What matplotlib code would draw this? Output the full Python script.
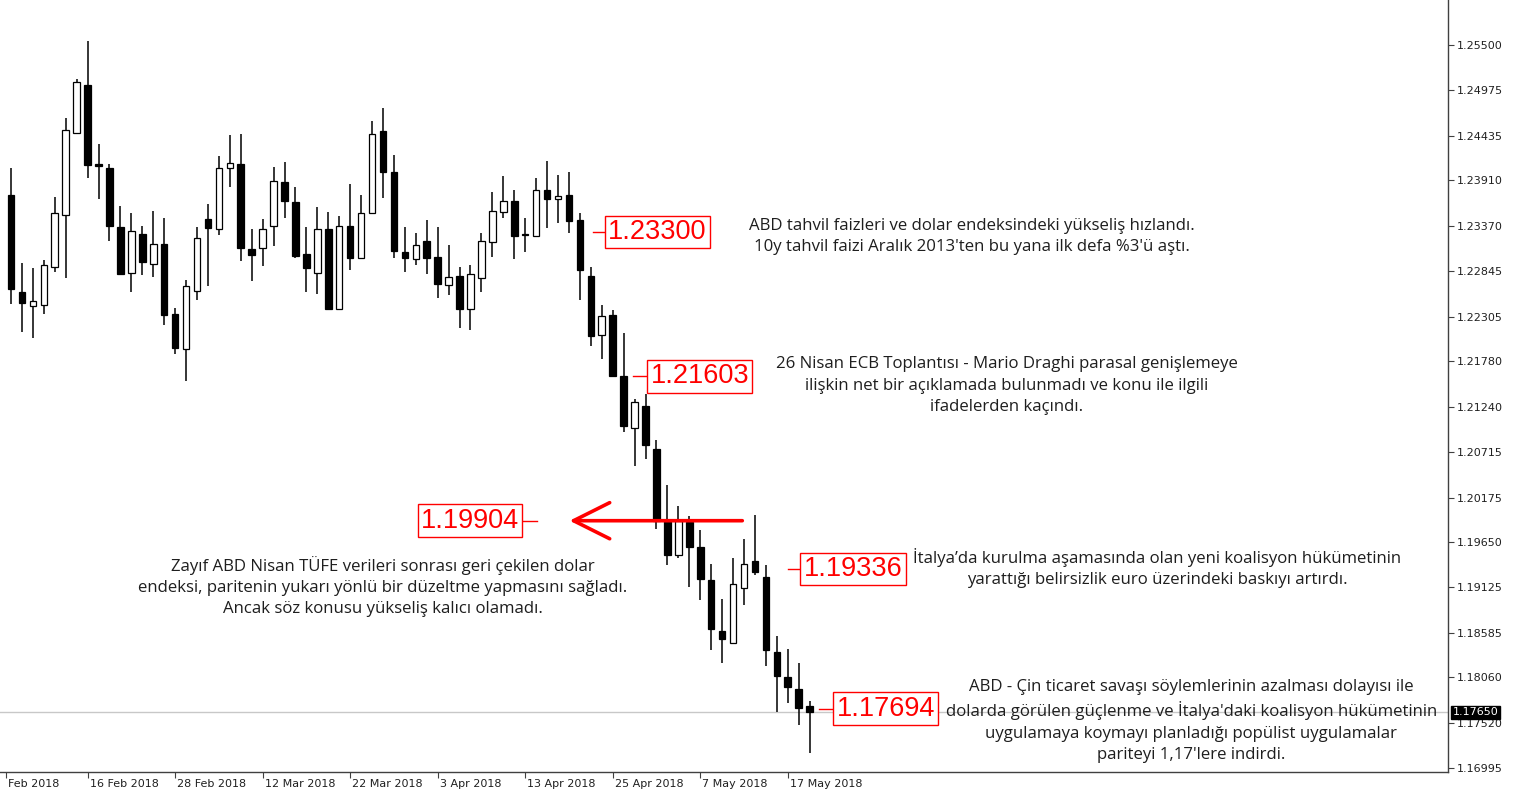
"""
EUR/USD daily candles, Feb - May 2018, with event notes (MT4 style chart).
"""

import matplotlib
matplotlib.use('Agg')
import matplotlib.pyplot as plt
from matplotlib.transforms import blended_transform_factory


# =============================================================================
# Data: one candle per trading day, 7 Feb 2018 -> 21 May 2018
# =============================================================================

opens = [1.2374, 1.2260, 1.2243, 1.2244, 1.2289, 1.2350, 1.2447, 1.2503, 1.2410, 1.2405,
         1.2336, 1.2282, 1.2328, 1.2292, 1.2316, 1.2233, 1.2192, 1.2261, 1.2345, 1.2334,
         1.2405, 1.2410, 1.2310, 1.2311, 1.2337, 1.2389, 1.2365, 1.2304, 1.2282, 1.2334,
         1.2240, 1.2337, 1.2299, 1.2352, 1.2449, 1.2400, 1.2307, 1.2298, 1.2320, 1.2301,
         1.2268, 1.2278, 1.2239, 1.2276, 1.2318, 1.2354, 1.2366, 1.2328, 1.2325, 1.2379,
         1.2369, 1.2373, 1.2344, 1.2278, 1.2209, 1.2232, 1.2161, 1.2099, 1.2125, 1.2075,
         1.1990, 1.1950, 1.1989, 1.1959, 1.1921, 1.1861, 1.1846, 1.1911, 1.1943, 1.1924,
         1.1836, 1.1807, 1.1792, 1.1772]
highs = [1.2405, 1.2294, 1.2288, 1.2297, 1.2371, 1.2464, 1.2510, 1.2555, 1.2434, 1.2410,
         1.2360, 1.2352, 1.2337, 1.2355, 1.2346, 1.2241, 1.2273, 1.2336, 1.2363, 1.2419,
         1.2444, 1.2445, 1.2334, 1.2345, 1.2407, 1.2412, 1.2383, 1.2336, 1.2359, 1.2354,
         1.2349, 1.2387, 1.2373, 1.2461, 1.2476, 1.2421, 1.2336, 1.2329, 1.2344, 1.2336,
         1.2315, 1.2289, 1.2291, 1.2329, 1.2377, 1.2396, 1.2379, 1.2346, 1.2394, 1.2413,
         1.2397, 1.2400, 1.2352, 1.2289, 1.2244, 1.2238, 1.2211, 1.2133, 1.2139, 1.2085,
         1.2032, 1.2008, 1.1996, 1.1979, 1.1940, 1.1898, 1.1947, 1.1969, 1.1997, 1.1938,
         1.1855, 1.1839, 1.1823, 1.1778]
lows = [1.2245, 1.2212, 1.2205, 1.2234, 1.2283, 1.2276, 1.2446, 1.2393, 1.2369, 1.2319,
        1.2280, 1.2259, 1.2279, 1.2277, 1.2221, 1.2187, 1.2155, 1.2250, 1.2267, 1.2327,
        1.2383, 1.2296, 1.2272, 1.2290, 1.2314, 1.2346, 1.2299, 1.2259, 1.2257, 1.2238,
        1.2239, 1.2285, 1.2298, 1.2351, 1.2370, 1.2300, 1.2283, 1.2291, 1.2281, 1.2252,
        1.2256, 1.2217, 1.2215, 1.2259, 1.2301, 1.2346, 1.2298, 1.2306, 1.2324, 1.2335,
        1.2341, 1.2329, 1.2250, 1.2196, 1.2181, 1.2159, 1.2095, 1.2055, 1.2063, 1.1981,
        1.1938, 1.1947, 1.1912, 1.1897, 1.1838, 1.1823, 1.1845, 1.1891, 1.1926, 1.1820,
        1.1765, 1.1776, 1.1750, 1.1717]
closes = [1.2263, 1.2247, 1.2249, 1.2291, 1.2352, 1.2450, 1.2506, 1.2409, 1.2408, 1.2337,
          1.2281, 1.2331, 1.2295, 1.2316, 1.2232, 1.2194, 1.2267, 1.2323, 1.2335, 1.2405,
          1.2411, 1.2311, 1.2303, 1.2334, 1.2390, 1.2366, 1.2302, 1.2288, 1.2334, 1.2239,
          1.2337, 1.2299, 1.2352, 1.2445, 1.2401, 1.2308, 1.2299, 1.2315, 1.2299, 1.2269,
          1.2277, 1.2240, 1.2281, 1.2319, 1.2355, 1.2366, 1.2325, 1.2326, 1.2379, 1.2369,
          1.2372, 1.2343, 1.2285, 1.2208, 1.2231, 1.21603, 1.2102, 1.2130, 1.2079, 1.19904,
          1.1950, 1.19904, 1.1960, 1.1922, 1.1863, 1.1851, 1.1916, 1.1940, 1.1930, 1.1838,
          1.1808, 1.1795, 1.1770, 1.17650]

last_price = 1.17650

# x axis: bar index of each date label
date_ticks = [-0.5, 7, 15, 23, 31, 39, 47, 55, 63, 71]
date_labels = ['Feb 2018', '16 Feb 2018', '28 Feb 2018', '12 Mar 2018', '22 Mar 2018',
               '3 Apr 2018', '13 Apr 2018', '25 Apr 2018', '7 May 2018', '17 May 2018']

price_ticks = [1.25500, 1.24975, 1.24435, 1.23910, 1.23370, 1.22845, 1.22305, 1.21780,
               1.21240, 1.20715, 1.20175, 1.19650, 1.19125, 1.18585, 1.18060, 1.17520,
               1.16995]

# red price marks
mark_values = [1.23300, 1.21603, 1.19904, 1.19336, 1.17694]

notes = [
    "ABD tahvil faizleri ve dolar endeksindeki yükseliş hızlandı.\n"
    "10y tahvil faizi Aralık 2013'ten bu yana ilk defa %3'ü aştı.",
    "26 Nisan ECB Toplantısı - Mario Draghi parasal genişlemeye\n"
    "ilişkin net bir açıklamada bulunmadı ve konu ile ilgili\n"
    "ifadelerden kaçındı.",
    "Zayıf ABD Nisan TÜFE verileri sonrası geri çekilen dolar\n"
    "endeksi, paritenin yukarı yönlü bir düzeltme yapmasını sağladı.\n"
    "Ancak söz konusu yükseliş kalıcı olamadı.",
    "İtalya’da kurulma aşamasında olan yeni koalisyon hükümetinin\n"
    "yarattığı belirsizlik euro üzerindeki baskıyı artırdı.",
    "ABD - Çin ticaret savaşı söylemlerinin azalması dolayısı ile\n"
    "dolarda görülen güçlenme ve İtalya'daki koalisyon hükümetinin\n"
    "uygulamaya koymayı planladığı popülist uygulamalar\n"
    "pariteyi 1,17'lere indirdi.",
]

# =============================================================================
# Layout (bar units / prices)
# =============================================================================
# leader line start/end for each red mark, box sits at the end
mark_lines = [(53.2, 54.3), (56.9, 58.2), (48.1, 46.7), (71.0, 72.2), (73.9, 75.2)]
note_pos = [(87.8, 1.2325), (91.0, 1.2149), (34.0, 1.1913), (104.8, 1.1935), (107.9, 1.1755)]
arrow_from, arrow_to = 67.1, 50.8

RED = '#ff0000'
TXT = '#1e1e1e'
AX = '#404040'

fig = plt.figure(figsize=(15.15, 7.98), dpi=100)
ax = fig.add_axes([0, 26 / 798, 1448 / 1515, 772 / 798])

# --- candles ---
x = list(range(len(opens)))
ax.vlines(x, lows, highs, color='black', lw=1.1, zorder=2)
for i in x:
    o, c = opens[i], closes[i]
    bull = c >= o
    h = max(abs(c - o), 0.00012)
    ax.bar(i, h, bottom=min(o, c), width=0.6,
           color='white' if bull else 'black', edgecolor='black', lw=0.9, zorder=3)

# current price line
ax.axhline(last_price, color='#c8c8c8', lw=1, zorder=1)

ax.set_xlim(-1.005, 131.35)
ax.set_ylim(1.16948, 1.26029)

# --- axes styling ---
for s in ['left', 'top']:
    ax.spines[s].set_visible(False)
for s in ['right', 'bottom']:
    ax.spines[s].set_color(AX)
    ax.spines[s].set_linewidth(1)

ax.yaxis.tick_right()
ax.set_yticks(price_ticks)
ax.set_yticklabels([f'{p:.5f}' for p in price_ticks])
ax.tick_params(axis='y', direction='out', length=4, width=0.8, color=AX,
               labelsize=8, pad=2, labelcolor='#202020')
ax.set_xticks(date_ticks)
ax.set_xticklabels([])
ax.tick_params(axis='x', direction='out', length=4, width=0.8, color=AX)

bx = blended_transform_factory(ax.transData, ax.transAxes)
for b, lab in zip(date_ticks, date_labels):
    ax.text(b + 0.2, -0.009, lab, transform=bx, ha='left', va='top',
            fontsize=8, color='#202020', clip_on=False)

# current price tag on the axis
by = blended_transform_factory(ax.transAxes, ax.transData)
ax.text(1.003, last_price, f'{last_price:.5f}', transform=by, ha='left', va='center',
        fontsize=8, color='white', zorder=6, clip_on=False,
        bbox=dict(boxstyle='square,pad=0.15', fc='black', ec='black'))

# --- red price marks ---
for val, (x0, x1) in zip(mark_values, mark_lines):
    ax.plot([x0, x1], [val, val], color=RED, lw=1, zorder=4)
    ha = 'left' if x1 > x0 else 'right'
    off = 0.25 if x1 > x0 else -0.25
    ax.text(x1 + off, val, f'{val:.5f}', ha=ha, va='center', color=RED,
            fontsize=19.5, family=['Liberation Sans', 'DejaVu Sans'], zorder=5,
            bbox=dict(boxstyle='square,pad=0.12', fc='white', ec=RED, lw=1))

# --- red arrow ---
ax.annotate('', xy=(arrow_to, mark_values[2]), xytext=(arrow_from, mark_values[2]),
            arrowprops=dict(arrowstyle='->,head_length=1.3,head_width=0.65',
                            color=RED, lw=2.6, mutation_scale=20), zorder=4)

# --- notes ---
for txt, (nx, ny) in zip(notes, note_pos):
    ax.text(nx, ny, txt, ha='center', va='center', multialignment='center',
            fontsize=12.1, family=['Open Sans', 'DejaVu Sans'], color=TXT,
            linespacing=1.45, zorder=5)

fig.savefig('out.png', dpi=100)
